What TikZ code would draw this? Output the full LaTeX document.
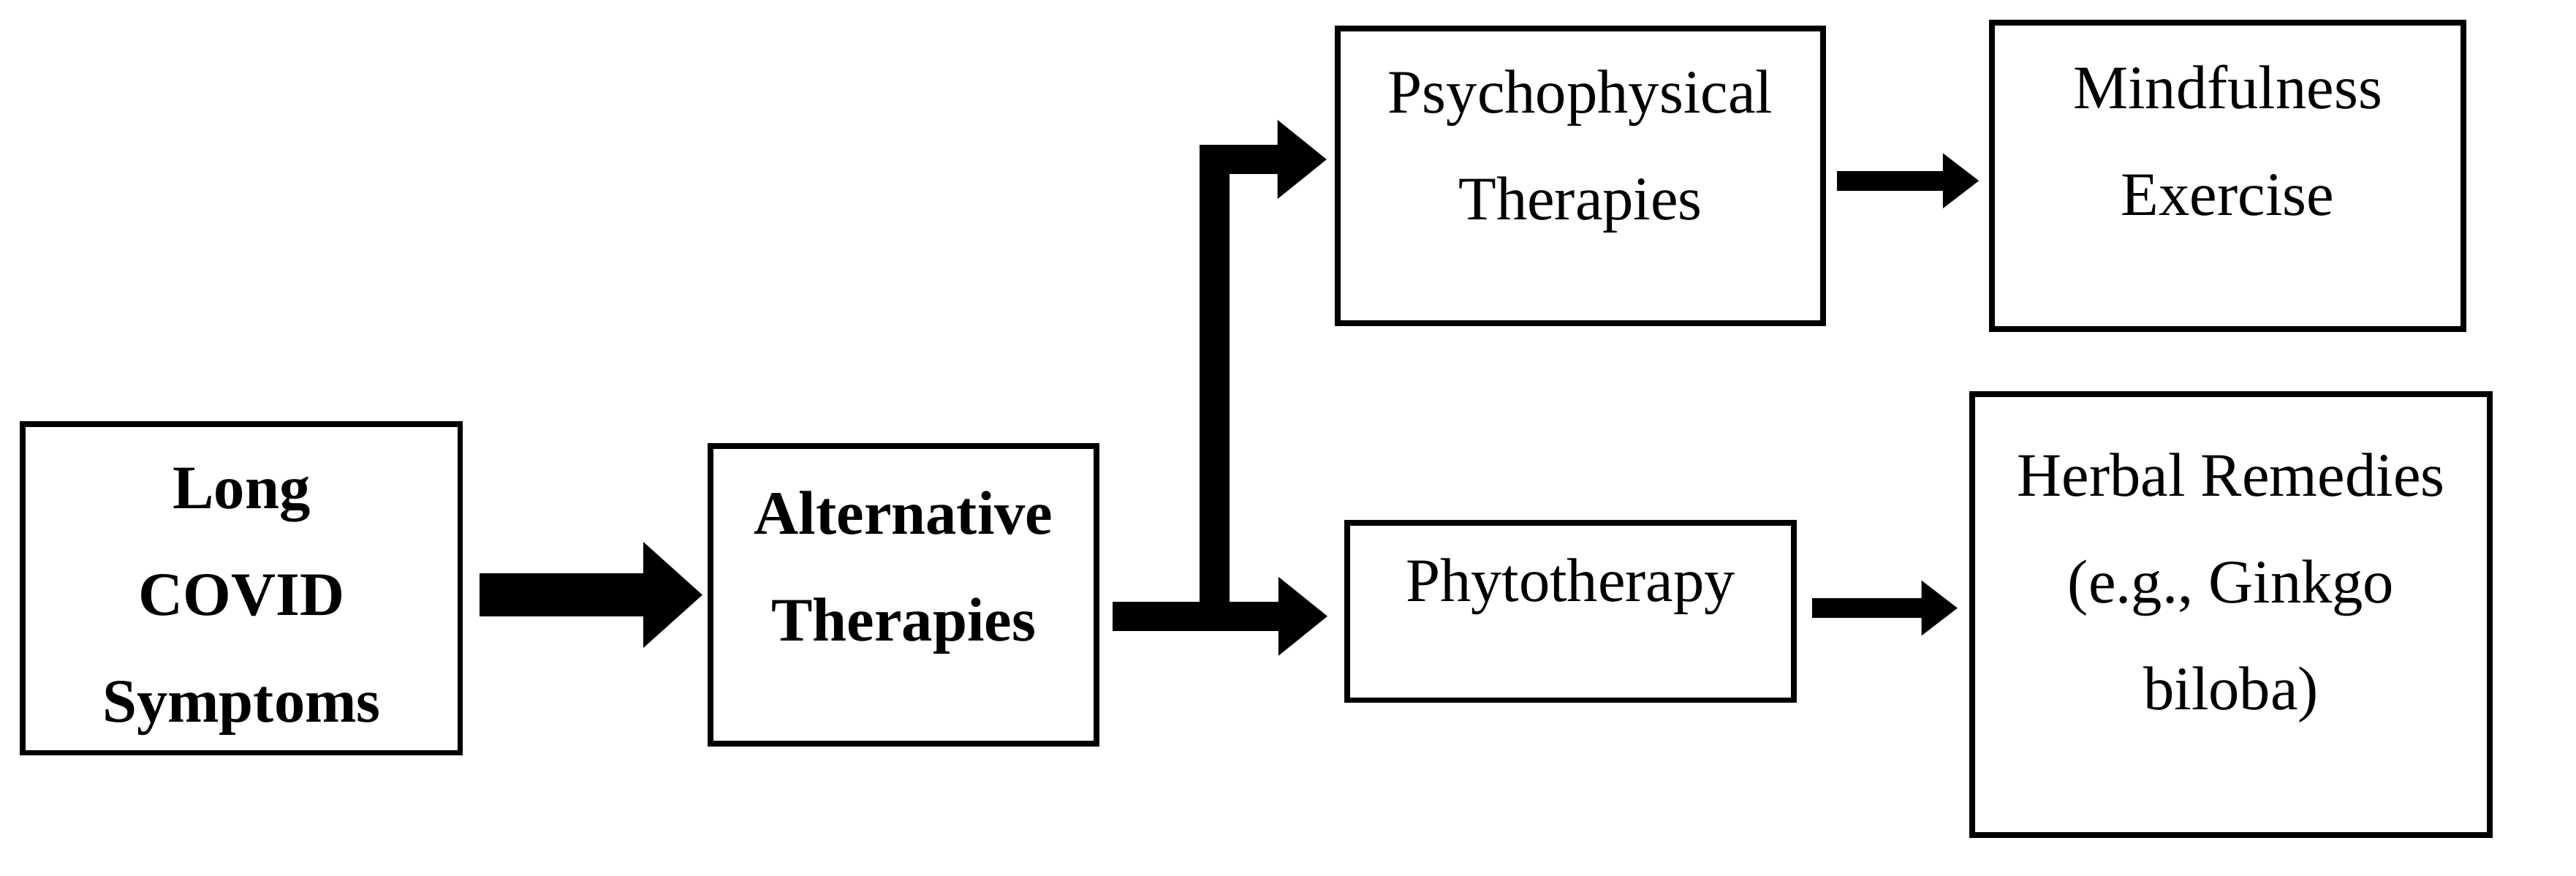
\documentclass[tikz,border=0pt]{standalone}
\usepackage{fontspec}
\setmainfont{Liberation Serif}
\usetikzlibrary{arrows.meta,calc}
\begin{document}
\begin{tikzpicture}[x=0.01cm,y=-0.01cm,
  box/.style={draw,line width=1pt,rectangle,inner sep=0pt},
  txt/.style={anchor=north,align=center,inner sep=0pt,font=\fontsize{10.7}{18.5}\selectfont},
  conn/.style={line join=miter}]
\useasboundingbox (0,0) rectangle (1568,533);
\node[box,minimum width=2.66cm,minimum height=2.0cm] (lc) at (147,358) {};
\node[box,minimum width=2.35cm,minimum height=1.81cm] (alt) at (550,362) {};
\node[box,minimum width=2.95cm,minimum height=1.79cm] (psy) at (962,107) {};
\node[box,minimum width=2.87cm,minimum height=1.86cm] (mind) at (1356,107) {};
\node[box,minimum width=2.72cm,minimum height=1.08cm] (phy) at (956,372) {};
\node[box,minimum width=3.15cm,minimum height=2.68cm] (herb) at (1358,374) {};
\node[txt,font=\fontsize{10.7}{18.5}\selectfont\bfseries] (lcT) at (147,284) {Long\\COVID\\Symptoms};
\node[txt,font=\fontsize{10.7}{18.5}\selectfont\bfseries] (altT) at (550,298) {Alternative\\Therapies};
\node[txt] (psyT) at (962,42) {Psychophysical\\Therapies};
\node[txt] (mindT) at (1356,39) {Mindfulness\\Exercise};
\node[txt] (phyT) at (956,339) {Phytotherapy};
\node[txt] (herbT) at (1358,275) {Herbal Remedies\\(e.g., Ginkgo\\biloba)};
% arrows
\coordinate (j) at ($(alt.east)+(70,22)$);
\draw[line width=0.26cm,-{Triangle[length=0.36cm,width=0.62cm]}]
  ($(lc.east)+(10,4)$) -- ($(alt.west)+(-3,0)$);
\draw[line width=0.18cm,-{Triangle[length=0.3cm,width=0.46cm]}]
  ($(alt.east)+(8,13)$) -- ($(phy.west)+(-10,3)$);
\draw[conn,line width=0.18cm,-{Triangle[length=0.3cm,width=0.46cm]}]
  (j) |- ($(psy.west)+(-5,-10)$);
\draw[line width=0.12cm,-{Triangle[length=0.22cm,width=0.32cm]}]
  ($(psy.east)+(7,3)$) -- ($(mind.west)+(-6,3)$);
\draw[line width=0.12cm,-{Triangle[length=0.22cm,width=0.32cm]}]
  ($(phy.east)+(9,-2)$) -- ($(herb.west)+(-7,-4)$);
\end{tikzpicture}
\end{document}
